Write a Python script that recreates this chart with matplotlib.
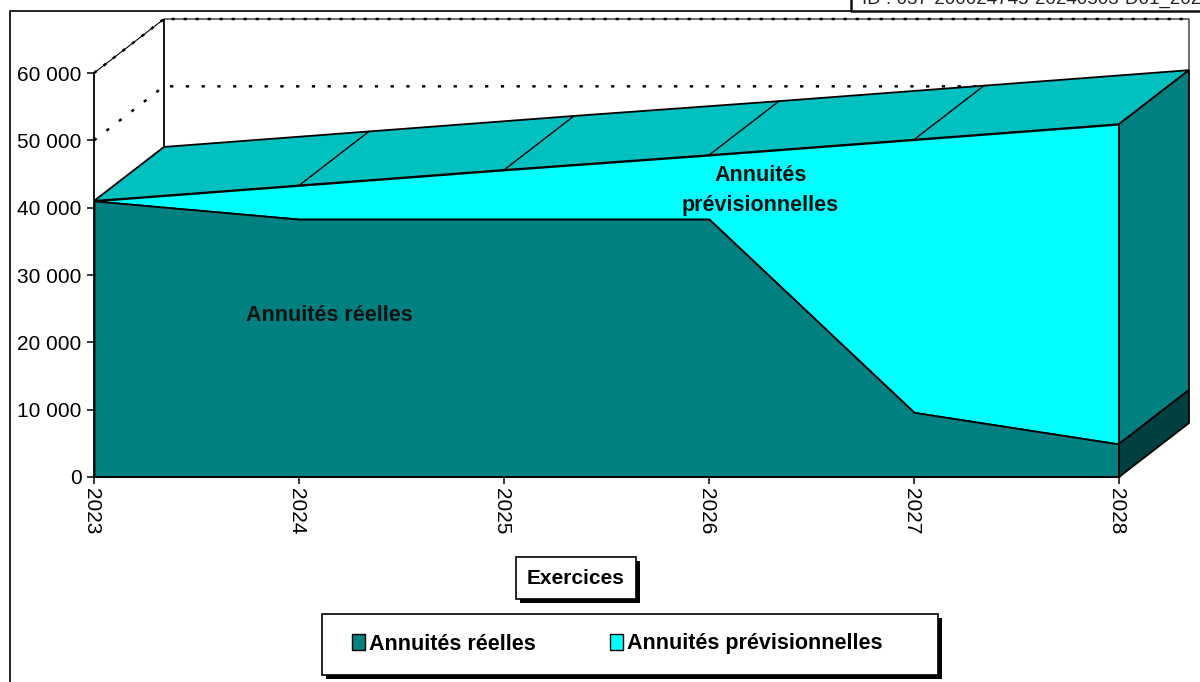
import matplotlib
matplotlib.use("Agg")
import matplotlib.pyplot as plt
import matplotlib.patheffects as pe
from matplotlib.patches import Rectangle, Patch
from matplotlib.ticker import FuncFormatter
from matplotlib.transforms import ScaledTranslation

plt.rcParams['font.family'] = ['Liberation Sans', 'DejaVu Sans']

years = [2023, 2024, 2025, 2026, 2027, 2028]
annuites_reelles = [41000, 38300, 38300, 38300, 9600, 4900]
annuites_previsionnelles = [0, 5000, 7300, 9500, 40500, 47500]
y_ticks = [0, 10000, 20000, 30000, 40000, 50000, 60000]
serie_reelle = "Annuités réelles"
serie_prev = "Annuités prévisionnelles"
x_title = "Exercices"
id_text = "ID : 037-200024745-20240503-D01_202"

W, H = 1200, 682
fig = plt.figure(figsize=(W / 100, H / 100), dpi=100, facecolor='white')

# front plane in pixels
L, R, Y0, Y60 = 94, 1119, 477, 73
DX_PX, DY_PX = 70, 54
per_year = (R - L) / 5
per_unit = (Y0 - Y60) / 60000
dx = DX_PX / per_year
dy = DY_PX / per_unit
AW, AH = R - L + DX_PX, Y0 - Y60 + DY_PX
ax = fig.add_axes([L / W, 1 - Y0 / H, AW / W, AH / H])
ax.set_xlim(0, 5 + dx)
ax.set_ylim(0, 60000 + dy)
ax.patch.set_visible(False)

xs = list(range(len(years)))
total = [a + b for a, b in zip(annuites_reelles, annuites_previsionnelles)]
K = 'black'
TEAL, CYAN, TOP, DARK = '#008080', '#00FFFF', '#00C0C0', '#004040'
LW = 1.3

# walls
for v, ls in ((50000, (0, (1.3, 5))), (60000, (0, (1.3, 3.5)))):
    ax.plot([0, dx, 5 + dx], [v, v + dy, v + dy], color=K, lw=1.8, ls=ls, zorder=1, clip_on=False)
ax.plot([0, dx, 5 + dx, 5 + dx], [60000, 60000 + dy, 60000 + dy, total[-1] + dy], color=K, lw=0.8, zorder=1, clip_on=False)
ax.plot([dx, dx], [total[0] + dy, 60000 + dy], color=K, lw=LW, zorder=1)

# top face
ax.fill(xs + [5 + dx] + [x + dx for x in reversed(xs)] + [0],
        total + [total[-1] + dy] + [t + dy for t in reversed(total)] + [total[0]],
        facecolor=TOP, edgecolor=K, lw=LW, zorder=2)
for x, t in zip(xs[1:-1], total[1:-1]):
    ax.plot([x, x + dx], [t, t + dy], color=K, lw=1.0, zorder=3)

# front areas
ax.fill_between(xs, annuites_reelles, total, facecolor=CYAN, edgecolor=K, lw=LW, zorder=4, label=serie_prev)
ax.fill_between(xs, 0, annuites_reelles, facecolor=TEAL, edgecolor=K, lw=LW, zorder=5, label=serie_reelle)

# right side face
r = annuites_reelles[-1]
ax.fill([5, 5 + dx, 5 + dx, 5], [r, r + dy, total[-1] + dy, total[-1]], facecolor=TEAL, edgecolor=K, lw=LW, zorder=6, clip_on=False)
ax.fill([5, 5 + dx, 5 + dx, 5], [0, dy, r + dy, r], facecolor=DARK, edgecolor=K, lw=LW, zorder=6, clip_on=False)

# axes
for s in ('top', 'right'):
    ax.spines[s].set_visible(False)
ax.spines['left'].set_bounds(0, 60000)
ax.spines['bottom'].set_bounds(0, 5)
for s in ('left', 'bottom'):
    ax.spines[s].set_linewidth(1.3)
    ax.spines[s].set_zorder(8)
ax.set_yticks(y_ticks)
ax.yaxis.set_major_formatter(FuncFormatter(lambda v, _: f"{int(v):,}".replace(",", " ")))
ax.set_xticks(xs)
ax.set_xticklabels(years, rotation=270)
ax.tick_params(axis='y', length=5, width=1.1, labelsize=15, pad=4)
ax.tick_params(axis='x', length=5, width=1.1, labelsize=15, pad=3)
for t in ax.get_xticklabels():
    t.set_transform(t.get_transform() + ScaledTranslation(-2.5 / 100, 0, fig.dpi_scale_trans))

# series labels
ax.text(1.15, 24000, serie_reelle, fontsize=15.5, fontweight='bold', ha='center', va='center', zorder=9, color='#111111')
ax.text(3.25, 42500, "Annuités\nprévisionnelles", fontsize=15.5, fontweight='bold', ha='center', va='center',
        linespacing=1.55, zorder=9, color='#111111')

shadow = [pe.SimplePatchShadow(offset=(3, -3), alpha=1, shadow_rgbFace='black'), pe.Normal()]

# axis title
ax.set_xlabel(x_title, fontsize=15, fontweight='bold', labelpad=0)
ax.xaxis.set_label_coords((576 - L) / AW, -(578 - Y0) / AH)
lab = ax.xaxis.label
lab.set_va('center')
lab.set_bbox(dict(boxstyle='square,pad=0.54', facecolor='white', edgecolor=K, lw=1.2))
lab.get_bbox_patch().set_path_effects(shadow)

# legend frame
frame = Rectangle((322 / W, 1 - 675 / H), (938 - 322) / W, (675 - 614) / H, transform=fig.transFigure,
                  facecolor='white', edgecolor=K, lw=1.2, zorder=9, clip_on=False)
frame.set_path_effects(shadow)
ax.add_artist(frame)

# legend
leg = ax.legend(handles=[Patch(facecolor=TEAL, edgecolor=K, label=serie_reelle),
                         Patch(facecolor=CYAN, edgecolor=K, label=serie_prev)],
                ncols=2, loc='center left', bbox_to_anchor=((352 - L) / AW, -(644 - Y0) / AH),
                frameon=False, prop={'weight': 'bold', 'size': 15.5}, handlelength=0.6, handleheight=0.8,
                handletextpad=0.18, columnspacing=3.45, borderpad=0, borderaxespad=0)
leg.set_zorder(10)

# outer frame and ID box
def px(x, y):
    return x / W, 1 - y / H

fig.add_artist(plt.Line2D([10 / W, 10 / W, 851 / W], [0, 1 - 11 / H, 1 - 11 / H], color='#222222', lw=1.4))
fig.add_artist(plt.Line2D([851 / W, 851 / W, 1], [1, 1 - 11 / H, 1 - 11 / H], color='#111111', lw=1.8))
fig.text(*px(862, 4), id_text, fontsize=13.5, ha='left', va='baseline', color='#222222')

fig.savefig('out.png', dpi=100)
